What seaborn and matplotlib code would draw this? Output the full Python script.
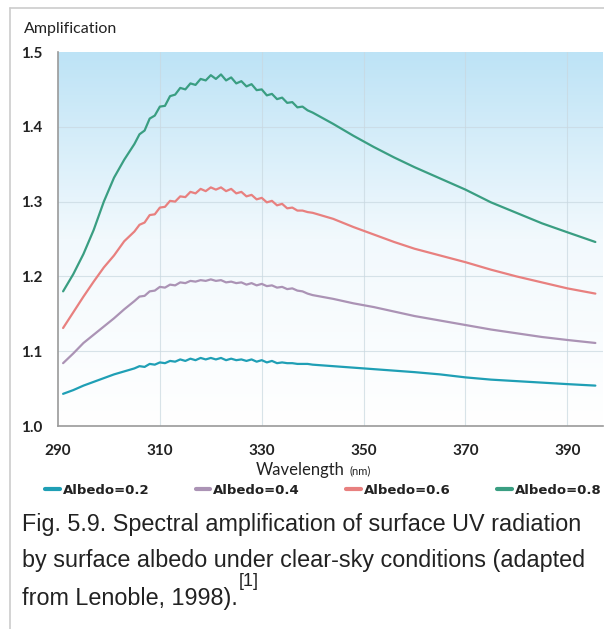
import numpy as np
import pandas as pd
import matplotlib
matplotlib.use("Agg")
import matplotlib.pyplot as plt
from matplotlib.colors import LinearSegmentedColormap
from matplotlib.lines import Line2D
import seaborn as sns

wavelength = [291, 293, 295, 297, 299, 301, 303, 305,
              306, 307, 308, 309, 310, 311, 312, 313, 314, 315, 316, 317, 318, 319, 320,
              321, 322, 323, 324, 325, 326, 327, 328, 329, 330, 331, 332, 333, 334, 335,
              336, 337, 338, 339, 340,
              344, 348, 352, 356, 360, 365, 370, 375, 380, 385, 390, 395.5]

albedo_02 = [1.043, 1.048, 1.054, 1.059, 1.064, 1.069, 1.073, 1.077,
             1.080, 1.079, 1.083, 1.082, 1.085, 1.084, 1.087, 1.086, 1.089, 1.087, 1.090, 1.088, 1.091, 1.089, 1.091,
             1.089, 1.091, 1.088, 1.090, 1.088, 1.089, 1.087, 1.089, 1.086, 1.088, 1.085, 1.087, 1.084, 1.085, 1.084,
             1.084, 1.083, 1.083, 1.083, 1.082,
             1.080, 1.078, 1.076, 1.074, 1.072, 1.069, 1.065, 1.062, 1.060, 1.058, 1.056, 1.054]

albedo_04 = [1.084, 1.097, 1.111, 1.122, 1.133, 1.144, 1.156, 1.167,
             1.173, 1.174, 1.180, 1.181, 1.186, 1.185, 1.189, 1.188, 1.192, 1.191, 1.194, 1.193, 1.195, 1.194, 1.196,
             1.194, 1.195, 1.192, 1.193, 1.191, 1.192, 1.189, 1.191, 1.188, 1.190, 1.187, 1.188, 1.185, 1.186, 1.183,
             1.184, 1.181, 1.180, 1.177, 1.175,
             1.170, 1.164, 1.159, 1.153, 1.147, 1.141, 1.135, 1.129, 1.124, 1.119, 1.115, 1.111]

albedo_06 = [1.131, 1.152, 1.173, 1.193, 1.212, 1.228, 1.247, 1.260,
             1.269, 1.272, 1.282, 1.283, 1.292, 1.293, 1.301, 1.300, 1.307, 1.306, 1.313, 1.311, 1.317, 1.314, 1.319,
             1.316, 1.319, 1.314, 1.317, 1.311, 1.313, 1.307, 1.309, 1.303, 1.305, 1.299, 1.301, 1.295, 1.297, 1.291,
             1.292, 1.288, 1.288, 1.286, 1.285,
             1.277, 1.266, 1.256, 1.246, 1.237, 1.228, 1.219, 1.209, 1.200, 1.192, 1.184, 1.177]

albedo_08 = [1.180, 1.203, 1.230, 1.262, 1.300, 1.332, 1.356, 1.377,
             1.390, 1.395, 1.411, 1.415, 1.427, 1.428, 1.441, 1.443, 1.452, 1.450, 1.458, 1.456, 1.464, 1.462, 1.469,
             1.464, 1.470, 1.462, 1.466, 1.458, 1.461, 1.454, 1.457, 1.449, 1.450, 1.442, 1.444, 1.437, 1.439, 1.432,
             1.433, 1.426, 1.427, 1.422, 1.419,
             1.404, 1.388, 1.373, 1.359, 1.346, 1.331, 1.316, 1.299, 1.285, 1.271, 1.259, 1.246]

series_names = ["Albedo=0.2", "Albedo=0.4", "Albedo=0.6", "Albedo=0.8"]
series_colors = ["#1f9fb5", "#ab93b5", "#e8807f", "#3a9e82"]
x_ticks = [290, 310, 330, 350, 370, 390]
y_ticks = [1.0, 1.1, 1.2, 1.3, 1.4, 1.5]
y_tick_labels = ["1.0", "1.1", "1.2", "1.3", "1.4", "1.5"]

df = pd.DataFrame({"wavelength": wavelength,
                   series_names[0]: albedo_02,
                   series_names[1]: albedo_04,
                   series_names[2]: albedo_06,
                   series_names[3]: albedo_08})
long_df = df.melt(id_vars="wavelength", var_name="series", value_name="amp")

sns.set_style("white")
plt.rcParams["font.family"] = ["Lato", "DejaVu Sans"]

W, H = 604, 629
fig = plt.figure(figsize=(W / 100, H / 100), dpi=100)
ax = fig.add_axes([58 / W, (H - 426) / H, (603 - 58) / W, (426 - 52) / H])

xlim = (290, 397)
ylim = (1.0, 1.5)

# gradient background
cmap = LinearSegmentedColormap.from_list("bg", ["#ffffff", "#f2f9fd", "#bde3f6"])
grad = np.linspace(0, 1, 256).reshape(-1, 1)
ax.imshow(grad, cmap=cmap, aspect="auto", origin="lower",
          extent=[xlim[0], xlim[1], ylim[0], ylim[1]], zorder=0)

for xv in x_ticks[1:]:
    ax.axvline(xv, color="#c9d8e0", lw=0.8, alpha=0.7, zorder=1)
for yv in y_ticks[1:-1]:
    ax.axhline(yv, color="#c9d8e0", lw=0.8, alpha=0.7, zorder=1)

sns.lineplot(data=long_df, x="wavelength", y="amp", hue="series",
             hue_order=series_names, palette=series_colors, lw=1.6,
             ax=ax, legend=False, zorder=3)

ax.set_xlim(*xlim)
ax.set_ylim(*ylim)
ax.set_xticks(x_ticks)
ax.set_xticklabels([str(v) for v in x_ticks])
ax.set_yticks(y_ticks)
ax.set_yticklabels(y_tick_labels)
ax.tick_params(axis="both", direction="out", length=4, width=1, color="#999999",
               labelsize=11, labelcolor="#222222")
ax.tick_params(axis="x", pad=9)
ax.tick_params(axis="y", pad=7)
for lab in ax.get_xticklabels() + ax.get_yticklabels():
    lab.set_fontweight("bold")
for side in ["top", "right"]:
    ax.spines[side].set_visible(False)
for side in ["left", "bottom"]:
    ax.spines[side].set_color("#9a9a9a")
    ax.spines[side].set_linewidth(1.2)
ax.set_xlabel("")
ax.set_ylabel("")

# axis titles
fig.text(24 / W, 1 - 29 / H, "Amplification", fontsize=11.5, color="#222222",
         va="center", ha="left")
fig.text(345 / W, 1 - 470 / H, "Wavelength", fontsize=12, color="#222222",
         va="center", ha="right")
fig.text(349 / W, 1 - 471 / H, "(nm)", fontsize=8, color="#222222",
         va="center", ha="left")

# legend
handles = [Line2D([0], [0], color=c, lw=3) for c in series_colors]
leg = fig.legend(handles, series_names, ncol=4, loc="center left",
                 bbox_to_anchor=(45 / W, 1 - 490 / H), frameon=False,
                 handlelength=1.1, handletextpad=0.25, columnspacing=3.5,
                 prop={"family": ["DejaVu Sans"], "weight": "bold", "size": 9.5},
                 borderaxespad=0, borderpad=0)
for t in leg.get_texts():
    t.set_color("#222222")

# caption
cap_font = ["Liberation Sans", "DejaVu Sans"]
fig.text(22 / W, 1 - 525 / H, "Fig. 5.9. Spectral amplification of surface UV radiation",
         fontsize=16.8, family=cap_font, color="#222222", va="center", ha="left")
fig.text(22 / W, 1 - 561 / H, "by surface albedo under clear-sky conditions (adapted",
         fontsize=16.8, family=cap_font, color="#222222", va="center", ha="left")
t3 = fig.text(22 / W, 1 - 598 / H, "from Lenoble, 1998).", fontsize=16.8, family=cap_font,
              color="#222222", va="center", ha="left")
fig.canvas.draw()
bb = t3.get_window_extent(renderer=fig.canvas.get_renderer())
fig.text(bb.x1 / W + 1 / W, 1 - 582 / H, "[1]", fontsize=13, family=cap_font,
         color="#222222", va="center", ha="left")

# frame lines
fig.add_artist(Line2D([10 / W, 10 / W], [0, 1 - 8 / H], transform=fig.transFigure,
                      color="#cccccc", lw=1.2))
fig.add_artist(Line2D([10 / W, 1], [1 - 8 / H, 1 - 8 / H], transform=fig.transFigure,
                      color="#cccccc", lw=1.2))

fig.savefig("out.png", dpi=100)
